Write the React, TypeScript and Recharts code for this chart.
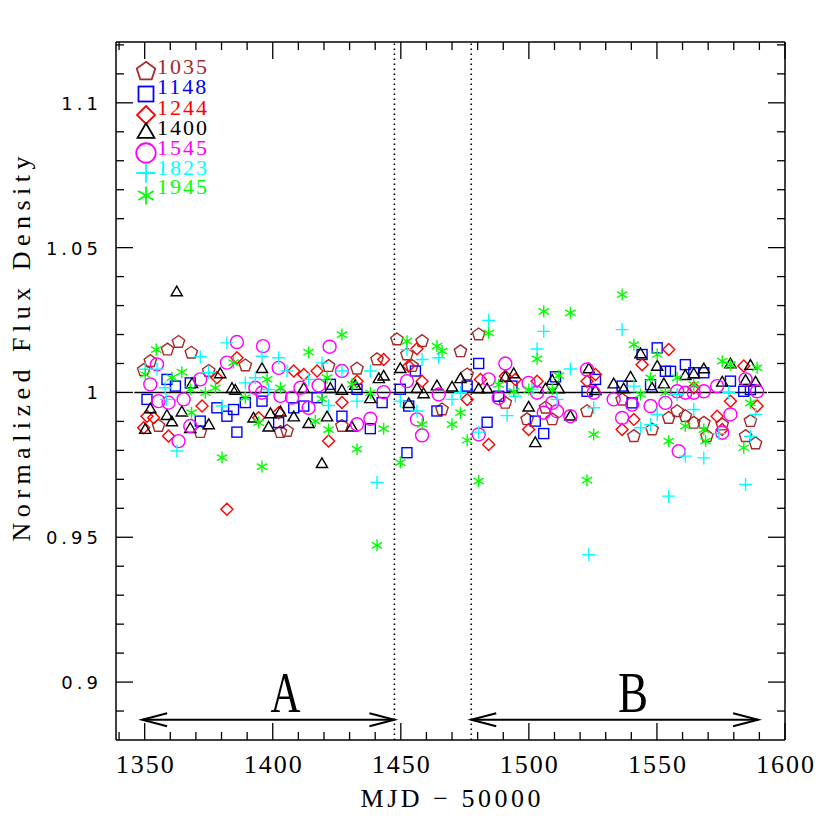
import React from "react";
import {
  ScatterChart,
  Scatter,
  XAxis,
  YAxis,
  ReferenceLine,
  ReferenceDot,
  Legend,
} from "recharts";

type Pt = [number, number];

// MJD - 50000, normalized flux density
const s1035: Pt[] = [
  [1349.6, 1.0077], [1352.2, 1.0108], [1355.4, 0.9884], [1358.9, 1.0148], [1363.2, 1.0174],
  [1368.2, 1.0137], [1371.7, 0.9863], [1375.0, 1.0074], [1389.3, 1.0093], [1403.0, 0.9863],
  [1405.6, 0.9867], [1421.8, 1.0091], [1427.0, 0.9884], [1432.9, 1.0082], [1440.7, 1.0114],
  [1448.5, 1.0183], [1452.4, 1.0131], [1454.4, 1.0091], [1458.3, 1.0177], [1466.1, 0.9941],
  [1473.3, 1.0142], [1475.9, 1.0062], [1480.4, 1.02], [1490.8, 0.9964], [1499.3, 0.9907],
  [1506.5, 0.9947], [1509.1, 0.9907], [1522.7, 0.9935], [1536.4, 0.9975], [1541.0, 0.9849],
  [1548.1, 0.9872], [1554.6, 0.9912], [1557.9, 0.9935], [1561.1, 0.9918], [1564.4, 0.9895],
  [1568.3, 0.9895], [1569.5, 0.9849], [1575.5, 0.9889], [1584.6, 0.9849], [1586.5, 0.9901],
  [1588.5, 0.9824],
];
const s1148: Pt[] = [
  [1350.9, 0.9976], [1358.7, 1.0045], [1362.0, 1.0022], [1367.8, 1.0033], [1371.7, 0.9901],
  [1378.2, 0.9947], [1382.1, 0.9918], [1384.7, 0.9941], [1386.0, 0.9863], [1389.3, 0.9965],
  [1395.8, 0.997], [1402.3, 0.9896], [1408.2, 0.9947], [1412.1, 0.9953], [1417.3, 0.9982],
  [1422.5, 1.0028], [1427.0, 0.9918], [1432.9, 1.0011], [1438.1, 0.9875], [1442.7, 0.9965],
  [1449.8, 1.0011], [1452.4, 0.9792], [1453.1, 0.9953], [1455.7, 1.0074], [1464.1, 0.9936],
  [1475.9, 1.0022], [1480.4, 1.01], [1483.7, 0.9897], [1488.2, 0.9987], [1493.4, 1.0022],
  [1502.5, 0.9901], [1505.8, 0.9858], [1510.4, 1.0054], [1522.7, 1.0004], [1526.0, 1.0045],
  [1536.4, 1.0022], [1540.3, 0.9964], [1544.2, 1.0131], [1547.5, 1.0027], [1550.1, 1.0154],
  [1553.3, 1.0073], [1555.3, 1.0073], [1561.1, 1.0096], [1564.4, 1.0068], [1568.3, 1.0068],
  [1578.7, 1.0039], [1583.9, 1.0004], [1586.5, 1.001],
];
const s1244: Pt[] = [
  [1349.6, 0.9878], [1350.9, 0.9918], [1353.5, 0.9913], [1359.3, 0.985], [1372.4, 0.9953],
  [1378.2, 1.0051], [1382.1, 0.9597], [1386.0, 1.012], [1394.5, 0.9913], [1402.3, 0.993],
  [1408.2, 1.0074], [1412.1, 1.0062], [1417.3, 1.0074], [1421.8, 0.9832], [1427.0, 0.9965],
  [1432.9, 1.0039], [1443.3, 1.0114], [1453.1, 1.0091], [1456.3, 1.0151], [1458.3, 1.0039],
  [1475.9, 0.9976], [1481.1, 1.0045], [1484.3, 0.982], [1490.8, 1.0056], [1494.7, 1.0045],
  [1499.9, 0.9872], [1503.2, 1.0039], [1522.7, 1.0039], [1526.0, 1.0062], [1536.4, 0.9872],
  [1541.0, 0.9907], [1544.2, 1.0096], [1554.6, 1.0148], [1564.4, 1.0016], [1573.5, 0.9918],
  [1575.5, 0.9872], [1578.7, 0.997], [1583.9, 1.0091], [1589.1, 0.9953],
];
const s1400: Pt[] = [
  [1350.2, 0.987], [1352.2, 0.9941], [1358.7, 0.9918], [1360.6, 0.9896], [1362.5, 1.0345],
  [1364.5, 0.993], [1367.8, 0.9873], [1368.5, 1.0028], [1375.0, 0.9886], [1379.5, 1.0062],
  [1384.1, 1.0011], [1385.4, 1.0005], [1392.5, 0.9909], [1395.8, 1.008], [1398.4, 0.9878],
  [1399.1, 0.9924], [1403.0, 0.993], [1408.2, 0.9913], [1412.1, 1.0011], [1414.0, 0.989],
  [1419.2, 0.9752], [1421.2, 0.9913], [1422.5, 1.0011], [1427.0, 1.0005], [1430.9, 0.9878],
  [1432.2, 1.0022], [1438.1, 0.9976], [1441.4, 1.0045], [1443.3, 1.0054], [1449.8, 1.008],
  [1453.1, 0.9959], [1456.3, 1.0011], [1458.9, 0.9993], [1464.1, 1.002], [1470.0, 1.0016],
  [1473.3, 1.0045], [1480.4, 1.001], [1483.7, 1.001], [1490.8, 1.005], [1494.1, 1.0062],
  [1499.9, 0.9947], [1502.5, 0.9824], [1506.5, 1.001], [1509.1, 1.0039], [1511.7, 1.001],
  [1516.2, 0.9916], [1523.4, 1.0079], [1526.0, 1.0004], [1533.1, 1.0027], [1537.0, 1.001],
  [1539.7, 1.005], [1543.6, 1.0131], [1548.1, 1.0012], [1550.1, 1.0088], [1552.7, 1.0027],
  [1561.1, 1.0056], [1564.4, 1.0062], [1568.3, 1.0079], [1575.5, 1.0033], [1578.7, 1.0096],
  [1584.6, 1.0039], [1586.5, 1.0091], [1588.5, 1.0033],
];
const s1545: Pt[] = [
  [1352.2, 1.0028], [1354.8, 1.0097], [1355.4, 0.997], [1359.3, 0.9965], [1363.2, 0.9832],
  [1365.2, 0.9976], [1367.8, 0.9884], [1371.7, 1.0045], [1382.1, 1.0103], [1386.0, 1.0174],
  [1393.2, 1.0016], [1395.8, 0.9999], [1396.2, 1.016], [1402.3, 1.0085], [1403.0, 0.9988],
  [1407.5, 0.9982], [1410.8, 1.0016], [1414.0, 0.9947], [1417.9, 1.0024], [1422.2, 1.0158],
  [1427.0, 1.0074], [1432.9, 0.989], [1438.1, 0.9909], [1443.3, 1.0001], [1452.4, 1.0039],
  [1456.3, 0.9907], [1458.3, 0.9852], [1464.8, 0.9993], [1480.4, 0.9855], [1484.3, 1.0045],
  [1488.2, 0.9981], [1490.8, 1.01], [1499.9, 1.0033], [1503.2, 0.9999], [1505.8, 0.993],
  [1509.1, 0.9964], [1511.0, 0.9935], [1516.2, 0.9918], [1522.7, 1.0079], [1525.3, 0.9999],
  [1533.1, 0.9976], [1536.4, 0.9912], [1540.3, 0.9958], [1547.5, 0.9953], [1553.3, 0.9964],
  [1557.9, 1.0004], [1558.5, 0.9797], [1561.1, 0.9999], [1564.4, 0.9999], [1568.3, 1.0004],
  [1573.5, 1.0022], [1575.5, 0.9861], [1578.7, 0.9924], [1584.6, 1.0045], [1589.1, 1.0004],
];
const s1823: Pt[] = [
  [1350.2, 1.008], [1354.8, 1.008], [1358.0, 1.0016], [1358.5, 0.9976], [1362.6, 0.9798],
  [1371.7, 1.0123], [1375.0, 1.0068], [1380.2, 0.9953], [1382.1, 1.0171], [1389.3, 1.0033],
  [1393.2, 1.0051], [1395.8, 1.0125], [1398.4, 1.001], [1402.3, 1.012], [1405.6, 1.0074],
  [1414.0, 1.0045], [1419.2, 1.0102], [1421.8, 0.9955], [1427.0, 1.0074], [1432.9, 0.997],
  [1438.1, 1.0074], [1440.7, 0.9689], [1449.8, 0.997], [1452.4, 1.0148], [1456.3, 0.9936],
  [1458.3, 1.0114], [1464.8, 1.012], [1470.0, 0.9976], [1473.3, 0.9999], [1480.4, 0.9863],
  [1484.3, 1.0249], [1491.5, 0.992], [1494.7, 0.9987], [1501.2, 1.001], [1503.2, 1.015],
  [1505.8, 1.0211], [1511.0, 0.9976], [1516.2, 1.0081], [1523.4, 0.944], [1525.3, 0.9947],
  [1536.4, 1.0217], [1541.0, 1.0022], [1543.6, 0.9878], [1547.5, 0.9889], [1550.1, 0.9924],
  [1554.6, 0.9642], [1557.9, 0.9993], [1561.1, 0.978], [1564.4, 0.9941], [1568.3, 0.9774],
  [1574.2, 0.9858], [1578.0, 0.9999], [1584.6, 0.9682], [1586.5, 0.9849], [1588.5, 0.9924],
];
const s1945: Pt[] = [
  [1350.2, 1.0062], [1354.5, 1.0148], [1360.6, 1.0051], [1364.5, 1.007], [1367.8, 1.0011],
  [1368.3, 0.993], [1373.7, 0.9999], [1377.6, 1.0016], [1380.2, 0.9775], [1384.7, 1.0103],
  [1389.3, 0.9982], [1394.5, 0.9896], [1395.8, 0.9744], [1397.8, 1.0045], [1403.0, 1.0016],
  [1414.0, 1.0139], [1416.6, 0.9901], [1419.2, 0.9978], [1421.2, 1.0051], [1421.8, 0.9872],
  [1427.0, 1.02], [1431.0, 1.0028], [1432.9, 0.9804], [1438.1, 0.9999], [1440.7, 0.9472],
  [1443.3, 0.9875], [1449.8, 0.9758], [1452.4, 1.0177], [1458.3, 0.989], [1464.1, 1.016],
  [1466.1, 1.0143], [1470.0, 0.989], [1473.3, 0.993], [1475.9, 0.9835], [1480.4, 0.9694],
  [1484.3, 1.0206], [1488.2, 1.0027], [1494.1, 1.0004], [1500.0, 1.001], [1503.2, 1.0116],
  [1505.8, 1.028], [1509.1, 1.001], [1511.7, 1.0058], [1516.2, 1.0275], [1522.7, 0.9697],
  [1525.3, 0.9855], [1536.4, 1.0338], [1541.0, 1.0165], [1543.6, 0.9993], [1547.5, 1.005],
  [1550.1, 1.0131], [1553.3, 0.9999], [1554.6, 0.9832], [1557.9, 1.005], [1561.1, 0.9884],
  [1564.4, 1.0027], [1568.3, 0.9872], [1569.0, 0.9832], [1575.5, 1.0108], [1578.7, 1.0096],
  [1583.9, 0.9809], [1586.5, 0.9964], [1589.1, 1.0085],
];

const X_DOMAIN: [number, number] = [1338.8, 1600];
const Y_DOMAIN: [number, number] = [0.88, 1.121];
const X_MAJOR = [1350, 1400, 1450, 1500, 1550, 1600];
const X_MINOR = [1340, 1360, 1370, 1380, 1390, 1410, 1420, 1430, 1440, 1460, 1470, 1480, 1490, 1510, 1520, 1530, 1540, 1560, 1570, 1580, 1590];
const Y_MAJOR = [0.9, 0.95, 1, 1.05, 1.1];
const Y_MINOR = [0.89, 0.91, 0.92, 0.93, 0.94, 0.96, 0.97, 0.98, 0.99, 1.01, 1.02, 1.03, 1.04, 1.06, 1.07, 1.08, 1.09, 1.11, 1.12];

// epoch separators, fit line and A/B ranges
const GAPS = [1447.5, 1477.5];
const UNITY_RANGE = [1346, 1593];
const EPOCHS = [
  { label: "A", from: 1349, to: 1447.5, mid: 1405 },
  { label: "B", from: 1477.5, to: 1589.5, mid: 1540.7 },
];
const ARROW_Y = 0.887;
const LETTER_Y = 0.8897;

type Kind = "pentagon" | "square" | "diamond" | "triangle" | "circle" | "plus" | "asterisk";

const SERIES: { name: string; data: Pt[]; color: string; kind: Kind }[] = [
  { name: "1035", data: s1035, color: "#a52a2a", kind: "pentagon" },
  { name: "1148", data: s1148, color: "#0000ff", kind: "square" },
  { name: "1244", data: s1244, color: "#ff0000", kind: "diamond" },
  { name: "1400", data: s1400, color: "#000000", kind: "triangle" },
  { name: "1545", data: s1545, color: "#ff00ff", kind: "circle" },
  { name: "1823", data: s1823, color: "#00ffff", kind: "plus" },
  { name: "1945", data: s1945, color: "#00ff00", kind: "asterisk" },
];

const W = 830;
const H = 830;
// plot box is 116..785 x 42..740; each axis takes 1px of the margin
const M = { top: 41, right: 44, bottom: 88, left: 114 };
const TOP = 42;
const BOTTOM = 740;
const LEFT = 116;
const RIGHT = 785;
const SERIF = "'Liberation Serif', 'Times New Roman', serif";
const SANS = "'DejaVu Sans', sans-serif";

const SIZE: Record<Kind, number> = {
  pentagon: 6.5,
  square: 5,
  diamond: 6,
  triangle: 6.5,
  circle: 6.5,
  plus: 6.5,
  asterisk: 6,
};

function drawMarker(kind: Kind, color: string, cx: number, cy: number, scale: number, sw: number) {
  const r = SIZE[kind] * scale;
  const st = { fill: "none", stroke: color, strokeWidth: sw };
  if (kind === "pentagon") {
    const pts = [0, 1, 2, 3, 4]
      .map((i) => {
        const a = ((-90 + 72 * i) * Math.PI) / 180;
        return `${cx + r * Math.cos(a)},${cy + r * Math.sin(a)}`;
      })
      .join(" ");
    return <polygon points={pts} {...st} />;
  }
  if (kind === "square") return <rect x={cx - r} y={cy - r} width={2 * r} height={2 * r} {...st} />;
  if (kind === "diamond")
    return <polygon points={`${cx},${cy - r} ${cx + r},${cy} ${cx},${cy + r} ${cx - r},${cy}`} {...st} />;
  if (kind === "triangle")
    return (
      <polygon
        points={`${cx},${cy - r} ${cx + 0.866 * r},${cy + 0.5 * r} ${cx - 0.866 * r},${cy + 0.5 * r}`}
        {...st}
      />
    );
  if (kind === "circle") return <circle cx={cx} cy={cy} r={r} {...st} />;
  if (kind === "plus")
    return <path d={`M${cx - r},${cy}H${cx + r}M${cx},${cy - r}V${cy + r}`} {...st} />;
  const dx = r * 0.866;
  const dy = r * 0.5;
  return (
    <path
      d={`M${cx},${cy - r}V${cy + r}M${cx - dx},${cy - dy}L${cx + dx},${cy + dy}M${cx - dx},${cy + dy}L${cx + dx},${cy - dy}`}
      {...st}
    />
  );
}

const markerShape = (kind: Kind, color: string) => (props: any) =>
  <g>{drawMarker(kind, color, props.cx, props.cy, 1, 1.4)}</g>;

const XMajorTick = ({ x, payload }: any) => (
  <g>
    <line x1={x} x2={x} y1={BOTTOM} y2={BOTTOM - 17} stroke="#000" strokeWidth={1.3} />
    <line x1={x} x2={x} y1={TOP} y2={TOP + 17} stroke="#000" strokeWidth={1.3} />
    <text x={x + 1} y={BOTTOM + 33} textAnchor="middle" fontFamily={SERIF} fontSize={26} letterSpacing={2} fill="#000">
      {payload.value}
    </text>
  </g>
);

const XMinorTick = ({ x }: any) => (
  <g>
    <line x1={x} x2={x} y1={BOTTOM} y2={BOTTOM - 8} stroke="#000" strokeWidth={1.3} />
    <line x1={x} x2={x} y1={TOP} y2={TOP + 8} stroke="#000" strokeWidth={1.3} />
  </g>
);

const YMajorTick = ({ y, payload }: any) => (
  <g>
    <line x1={LEFT} x2={LEFT + 17} y1={y} y2={y} stroke="#000" strokeWidth={1.3} />
    <line x1={RIGHT} x2={RIGHT - 17} y1={y} y2={y} stroke="#000" strokeWidth={1.3} />
    <text x={LEFT - 14} y={y + 7} textAnchor="end" fontFamily={SANS} fontSize={18} letterSpacing={4} fill="#000">
      {String(payload.value)}
    </text>
  </g>
);

const YMinorTick = ({ y }: any) => (
  <g>
    <line x1={LEFT} x2={LEFT + 8} y1={y} y2={y} stroke="#000" strokeWidth={1.3} />
    <line x1={RIGHT} x2={RIGHT - 8} y1={y} y2={y} stroke="#000" strokeWidth={1.3} />
  </g>
);

const ArrowShape = (p: any) => {
  const { x1, y1, x2, y2 } = p;
  const L = 25;
  const hw = 6.5;
  return (
    <g stroke="#000" strokeWidth={2} fill="none">
      <line x1={x1} y1={y1} x2={x2} y2={y2} />
      <polyline points={`${x1 + L},${y1 - hw} ${x1},${y1} ${x1 + L},${y1 + hw}`} />
      <polyline points={`${x2 - L},${y2 - hw} ${x2},${y2} ${x2 - L},${y2 + hw}`} />
    </g>
  );
};

const letterShape = (label: string) => (p: any) => (
  <text x={p.cx} y={p.cy} textAnchor="middle" fontFamily={SERIF} fontSize={56} textLength={30} lengthAdjust="spacingAndGlyphs" fill="#000">
    {label}
  </text>
);

const LEGEND_TEXT_Y = [74, 94, 115, 135, 155, 175, 194];
const LEGEND_MARK_Y = [71.5, 94, 115, 133, 153, 173, 195.5];

const LegendBox = () => (
  <svg width={240} height={215} style={{ display: "block" }}>
    {SERIES.map((s, i) => (
      <g key={s.name}>
        {drawMarker(s.kind, s.color, 146, LEGEND_MARK_Y[i], 1.5, 1.8)}
        <text x={157} y={LEGEND_TEXT_Y[i]} fill={s.color} fontFamily={SERIF} fontSize={22} letterSpacing={2}>
          {s.name}
        </text>
      </g>
    ))}
  </svg>
);

const XTitle = () => (
  <text x={(LEFT + RIGHT) / 2} y={BOTTOM + 67} textAnchor="middle" fontFamily={SERIF} fontSize={26} textLength={180} lengthAdjust="spacing" fill="#000">
    MJD − 50000
  </text>
);

const YTitle = () => (
  <text x={30} y={349} transform="rotate(-90, 30, 349)" textAnchor="middle" fontFamily={SERIF} fontSize={26} textLength={385} lengthAdjust="spacing" fill="#000">
    Normalized Flux Density
  </text>
);

export default function App() {
  return (
    <div style={{ position: "absolute", left: 0, top: 0, width: W, height: H, background: "#fff" }}>
      <ScatterChart width={W} height={H} margin={M}>
        <XAxis
          xAxisId="x"
          type="number"
          dataKey="x"
          domain={X_DOMAIN}
          allowDataOverflow
          ticks={X_MAJOR}
          interval={0}
          height={1}
          tickLine={false}
          axisLine={{ stroke: "#000", strokeWidth: 1.5 }}
          tick={<XMajorTick />}
          label={<XTitle />}
        />
        <XAxis
          xAxisId="xm"
          type="number"
          dataKey="x"
          domain={X_DOMAIN}
          allowDataOverflow
          ticks={X_MINOR}
          interval={0}
          height={1}
          tickLine={false}
          axisLine={false}
          tick={<XMinorTick />}
        />
        <XAxis
          xAxisId="xt"
          orientation="top"
          type="number"
          dataKey="x"
          domain={X_DOMAIN}
          allowDataOverflow
          height={1}
          tick={false}
          tickLine={false}
          axisLine={{ stroke: "#000", strokeWidth: 1.5 }}
        />
        <YAxis
          yAxisId="y"
          type="number"
          dataKey="y"
          domain={Y_DOMAIN}
          allowDataOverflow
          ticks={Y_MAJOR}
          interval={0}
          width={1}
          tickLine={false}
          axisLine={{ stroke: "#000", strokeWidth: 1.5 }}
          tick={<YMajorTick />}
          label={<YTitle />}
        />
        <YAxis
          yAxisId="ym"
          type="number"
          dataKey="y"
          domain={Y_DOMAIN}
          allowDataOverflow
          ticks={Y_MINOR}
          interval={0}
          width={1}
          tickLine={false}
          axisLine={false}
          tick={<YMinorTick />}
        />
        <YAxis
          yAxisId="yr"
          orientation="right"
          type="number"
          dataKey="y"
          domain={Y_DOMAIN}
          allowDataOverflow
          width={1}
          tick={false}
          tickLine={false}
          axisLine={{ stroke: "#000", strokeWidth: 1.5 }}
        />
        {GAPS.map((g) => (
          <ReferenceLine key={g} xAxisId="x" yAxisId="y" x={g} stroke="#000" strokeWidth={1.6} strokeDasharray="1.6 3.4" />
        ))}
        <ReferenceLine
          xAxisId="x"
          yAxisId="y"
          segment={[
            { x: UNITY_RANGE[0], y: 1 },
            { x: UNITY_RANGE[1], y: 1 },
          ]}
          stroke="#000"
          strokeWidth={1.5}
        />
        {EPOCHS.map((e) => (
          <ReferenceLine
            key={e.label}
            xAxisId="x"
            yAxisId="y"
            segment={[
              { x: e.from, y: ARROW_Y },
              { x: e.to, y: ARROW_Y },
            ]}
            shape={ArrowShape}
          />
        ))}
        {EPOCHS.map((e) => (
          <ReferenceDot key={e.label + "t"} xAxisId="x" yAxisId="y" x={e.mid} y={LETTER_Y} r={1} shape={letterShape(e.label)} />
        ))}
        {SERIES.map((s) => (
          <Scatter
            key={s.name}
            name={s.name}
            xAxisId="x"
            yAxisId="y"
            data={s.data.map(([x, y]) => ({ x, y }))}
            shape={markerShape(s.kind, s.color)}
            isAnimationActive={false}
          />
        ))}
        <Legend
          layout="vertical"
          align="center"
          verticalAlign="middle"
          content={<LegendBox />}
          wrapperStyle={{ left: 0, top: 0, width: 240, height: 215 }}
        />
      </ScatterChart>
    </div>
  );
}
